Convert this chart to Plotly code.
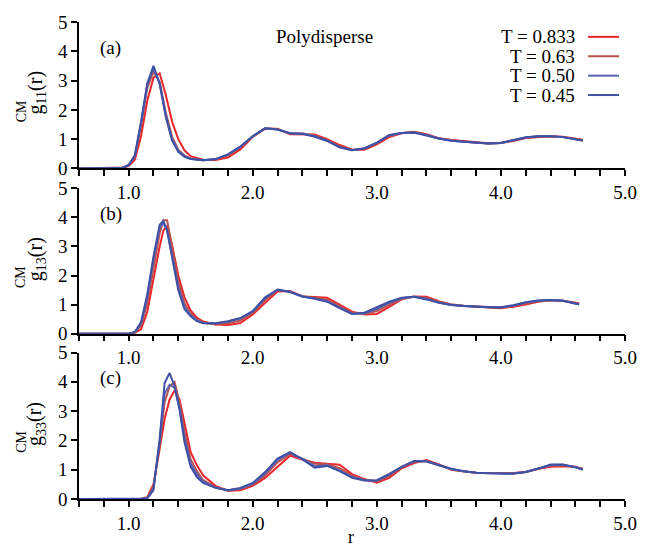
""" Pair correlation g_CM(r) for the polydisperse system, three panels. """

import plotly.graph_objects as go

FONT = "Liberation Serif"

TEMPS = ["T = 0.833", "T = 0.63", "T = 0.50", "T = 0.45"]
COLORS = ["#e8262b", "#b9524f", "#5a63b2", "#3e51a4"]

# panel (a): g_11
R_A = [0.6, 0.9, 0.95, 1.0, 1.05, 1.1, 1.15, 1.2, 1.25, 1.3, 1.35, 1.4, 1.45, 1.5,
       1.6, 1.7, 1.8, 1.9, 2.0, 2.1, 2.2, 2.3, 2.4, 2.5, 2.6, 2.7, 2.8, 2.9, 3.0,
       3.1, 3.2, 3.3, 3.4, 3.5, 3.6, 3.7, 3.8, 3.9, 4.0, 4.1, 4.2, 4.3, 4.4, 4.5,
       4.6, 4.66]
G11_0833 = [0, 0.01, 0.03, 0.08, 0.3, 1.1, 2.3, 3.1, 3.25, 2.5, 1.6, 1.0, 0.62, 0.42,
            0.3, 0.29, 0.37, 0.65, 1.08, 1.36, 1.36, 1.17, 1.17, 1.16, 1.0, 0.8, 0.65,
            0.64, 0.82, 1.07, 1.2, 1.25, 1.17, 1.03, 0.97, 0.94, 0.89, 0.86, 0.87,
            0.94, 1.04, 1.07, 1.1, 1.08, 1.02, 0.98]
G11_063 = [0, 0, 0.02, 0.1, 0.4, 1.45, 2.75, 3.3, 2.95, 1.9, 1.08, 0.64, 0.44, 0.34,
           0.28, 0.31, 0.44, 0.72, 1.1, 1.37, 1.34, 1.19, 1.19, 1.12, 0.97, 0.75, 0.63,
           0.67, 0.86, 1.12, 1.21, 1.24, 1.15, 1.02, 0.96, 0.92, 0.88, 0.85, 0.87,
           0.95, 1.05, 1.09, 1.1, 1.07, 1.01, 0.96]
G11_050 = [0, 0, 0.02, 0.11, 0.43, 1.55, 2.85, 3.4, 2.9, 1.8, 1.0, 0.6, 0.42, 0.33,
           0.28, 0.32, 0.47, 0.74, 1.1, 1.37, 1.33, 1.2, 1.19, 1.1, 0.95, 0.73, 0.62,
           0.68, 0.87, 1.13, 1.21, 1.23, 1.14, 1.02, 0.95, 0.91, 0.87, 0.85, 0.87,
           0.96, 1.06, 1.1, 1.1, 1.07, 1.0, 0.95]
G11_045 = [0, 0, 0.02, 0.12, 0.45, 1.6, 2.9, 3.5, 2.9, 1.75, 0.96, 0.57, 0.4, 0.32,
           0.28, 0.32, 0.48, 0.75, 1.1, 1.37, 1.33, 1.2, 1.18, 1.08, 0.94, 0.72, 0.62,
           0.69, 0.88, 1.14, 1.21, 1.23, 1.13, 1.02, 0.95, 0.91, 0.87, 0.85, 0.87,
           0.97, 1.07, 1.1, 1.1, 1.07, 1.0, 0.95]

# panel (b): g_13
R_B = [0.6, 0.95, 1.0, 1.05, 1.1, 1.15, 1.2, 1.25, 1.28, 1.31, 1.35, 1.4, 1.45, 1.5,
       1.55, 1.6, 1.7, 1.8, 1.9, 2.0, 2.1, 2.2, 2.3, 2.4, 2.5, 2.6, 2.7, 2.8, 2.9,
       3.0, 3.1, 3.2, 3.3, 3.4, 3.5, 3.6, 3.7, 3.8, 3.9, 4.0, 4.1, 4.2, 4.3, 4.4,
       4.5, 4.63]
G13_0833 = [0, 0, 0.01, 0.03, 0.15, 0.75, 1.9, 3.0, 3.55, 3.7, 3.05, 2.0, 1.25, 0.8,
            0.55, 0.42, 0.32, 0.3, 0.37, 0.66, 1.06, 1.45, 1.47, 1.28, 1.26, 1.24, 1.0,
            0.76, 0.66, 0.68, 0.92, 1.18, 1.28, 1.27, 1.12, 1.0, 0.95, 0.94, 0.9, 0.88,
            0.93, 1.0, 1.1, 1.15, 1.13, 1.05]
G13_063 = [0, 0, 0, 0.04, 0.28, 1.05, 2.3, 3.45, 3.9, 3.9, 3.0, 1.8, 1.05, 0.7, 0.5,
           0.38, 0.33, 0.36, 0.45, 0.72, 1.15, 1.5, 1.45, 1.29, 1.24, 1.17, 0.95, 0.72,
           0.68, 0.78, 1.0, 1.2, 1.27, 1.23, 1.1, 1.01, 0.96, 0.93, 0.9, 0.89, 0.96,
           1.05, 1.12, 1.16, 1.13, 1.03]
G13_050 = [0, 0, 0, 0.05, 0.35, 1.25, 2.55, 3.65, 3.8, 3.55, 2.7, 1.6, 0.92, 0.63,
           0.46, 0.37, 0.35, 0.41, 0.52, 0.76, 1.22, 1.51, 1.44, 1.28, 1.21, 1.12, 0.9,
           0.69, 0.7, 0.85, 1.06, 1.22, 1.27, 1.2, 1.07, 0.99, 0.95, 0.93, 0.91, 0.9,
           0.97, 1.07, 1.13, 1.16, 1.13, 1.01]
G13_045 = [0, 0, 0, 0.06, 0.4, 1.35, 2.65, 3.75, 3.88, 3.55, 2.6, 1.5, 0.85, 0.6,
           0.43, 0.36, 0.36, 0.43, 0.54, 0.78, 1.25, 1.52, 1.43, 1.28, 1.2, 1.1, 0.88,
           0.68, 0.72, 0.9, 1.1, 1.24, 1.27, 1.18, 1.06, 0.99, 0.95, 0.93, 0.91, 0.91,
           0.98, 1.08, 1.14, 1.16, 1.13, 1.0]

# panel (c): g_33
R_C = [0.6, 1.1, 1.15, 1.2, 1.25, 1.29, 1.33, 1.37, 1.41, 1.45, 1.5, 1.55, 1.6, 1.7,
       1.8, 1.9, 2.0, 2.1, 2.2, 2.3, 2.4, 2.5, 2.6, 2.7, 2.8, 2.9, 3.0, 3.1, 3.2,
       3.3, 3.4, 3.5, 3.6, 3.7, 3.8, 3.9, 4.0, 4.1, 4.2, 4.3, 4.4, 4.5, 4.6, 4.66]
G33_0833 = [0, 0.01, 0.06, 0.5, 1.71, 2.73, 3.4, 3.7, 3.4, 2.61, 1.6, 1.15, 0.81,
            0.45, 0.28, 0.3, 0.45, 0.72, 1.1, 1.48, 1.35, 1.24, 1.2, 1.17, 0.85, 0.68,
            0.56, 0.72, 1.05, 1.23, 1.33, 1.18, 1.0, 0.94, 0.9, 0.89, 0.89, 0.89, 0.92,
            1.03, 1.1, 1.12, 1.1, 1.03]
G33_063 = [0, 0, 0.04, 0.4, 1.85, 3.3, 3.85, 4.0, 3.3, 2.3, 1.35, 0.95, 0.65, 0.4,
           0.29, 0.33, 0.5, 0.8, 1.25, 1.55, 1.38, 1.2, 1.18, 1.05, 0.8, 0.66, 0.6,
           0.78, 1.08, 1.27, 1.3, 1.17, 1.01, 0.94, 0.9, 0.89, 0.88, 0.88, 0.92, 1.03,
           1.14, 1.15, 1.09, 1.02]
G33_050 = [0, 0, 0.03, 0.35, 1.95, 3.6, 3.9, 3.8, 3.1, 2.1, 1.2, 0.85, 0.6, 0.39,
           0.3, 0.36, 0.52, 0.87, 1.33, 1.58, 1.37, 1.12, 1.15, 0.98, 0.75, 0.64, 0.62,
           0.83, 1.1, 1.29, 1.29, 1.16, 1.02, 0.95, 0.9, 0.88, 0.87, 0.87, 0.92, 1.03,
           1.16, 1.17, 1.09, 1.01]
G33_045 = [0, 0, 0.02, 0.3, 2.05, 3.96, 4.3, 3.85, 3.06, 1.94, 1.1, 0.75, 0.55, 0.38,
           0.3, 0.38, 0.55, 0.92, 1.38, 1.6, 1.35, 1.07, 1.13, 0.95, 0.72, 0.63, 0.64,
           0.86, 1.1, 1.3, 1.28, 1.15, 1.03, 0.95, 0.9, 0.88, 0.86, 0.86, 0.92, 1.03,
           1.18, 1.18, 1.08, 1.0]

X_LABEL_TICKS = [1.0, 2.0, 3.0, 4.0, 5.0]
Y_TICKS = [0, 1, 2, 3, 4, 5]

PANELS = [
    ("(a)", "11", R_A, [G11_0833, G11_063, G11_050, G11_045]),
    ("(b)", "13", R_B, [G13_0833, G13_063, G13_050, G13_045]),
    ("(c)", "33", R_C, [G33_0833, G33_063, G33_050, G33_045]),
]

W, H = 649, 547
L, R, T, B = 79, 22, 17, 48
PH = H - T - B
PW = W - L - R
# panel tops/bottoms in pixels from the top of the page
PANEL_PX = [(17, 165), (185, 332), (351, 499)]


def py2paper(py):
    return (H - B - py) / PH


def px2paper(px):
    return (px - L) / PW


fig = go.Figure()
annotations = []
shapes = []
tick_font = dict(family=FONT, size=19, color="black")

for i, (tag, sub, r, series) in enumerate(PANELS):
    n = i + 1
    xa = "x" if n == 1 else f"x{n}"
    ya = "y" if n == 1 else f"y{n}"
    for name, color, g in zip(TEMPS, COLORS, series):
        fig.add_trace(go.Scatter(x=r, y=g, mode="lines", name=name, xaxis=xa, yaxis=ya,
                                 line=dict(color=color, width=2), showlegend=False))
    top, bot = PANEL_PX[i]
    axis_common = dict(showline=True, linecolor="black", linewidth=1.5, ticks="outside",
                       ticklen=6, tickwidth=1.5, tickcolor="black", showgrid=False,
                       zeroline=False, tickfont=tick_font)
    fig.layout[f"xaxis{'' if n == 1 else n}"] = dict(
        axis_common, range=[0.6, 5.0], tickmode="array", tickvals=X_LABEL_TICKS,
        tickformat=".1f", anchor=ya, domain=[0, 1],
        minor=dict(ticks="outside", ticklen=6, tickwidth=1.5, tickcolor="black",
                   tickmode="linear", tick0=0.6, dtick=0.2, showgrid=False))
    fig.layout[f"yaxis{'' if n == 1 else n}"] = dict(
        axis_common, range=[0, 5], tickmode="array", tickvals=Y_TICKS,
        anchor=xa, domain=[py2paper(bot), py2paper(top)])
    mid = (top + bot) / 2
    annotations.append(dict(text=f"g<sub>{sub}</sub>(r)", xref="paper", yref="paper",
                             x=px2paper(36), y=py2paper(mid - 2), textangle=-90,
                             showarrow=False, xanchor="center", yanchor="middle",
                             font=dict(family=FONT, size=20, color="black")))
    annotations.append(dict(text="CM", xref="paper", yref="paper",
                             x=px2paper(21), y=py2paper(mid + 16), textangle=-90,
                             showarrow=False, xanchor="center", yanchor="middle",
                             font=dict(family=FONT, size=14, color="black")))
    annotations.append(dict(text=tag, xref="paper", yref="paper",
                             x=px2paper(111), y=py2paper(top + 26), showarrow=False,
                             xanchor="center", yanchor="middle",
                             font=dict(family=FONT, size=19, color="black")))

annotations.append(dict(text="Polydisperse", xref="paper", yref="paper",
                        x=px2paper(325), y=py2paper(32), showarrow=False,
                        xanchor="center", yanchor="middle",
                        font=dict(family=FONT, size=19, color="black")))
annotations.append(dict(text="r", xref="paper", yref="paper",
                        x=px2paper(352), y=py2paper(537), showarrow=False,
                        xanchor="center", yanchor="middle",
                        font=dict(family=FONT, size=18, color="black")))

# legend drawn as text on the left, line sample on the right
for k, (name, color) in enumerate(zip(TEMPS, COLORS)):
    yy = 32 + k * 19.6
    annotations.append(dict(text=name, xref="paper", yref="paper", x=px2paper(579),
                            y=py2paper(yy), showarrow=False, xanchor="right",
                            yanchor="middle",
                            font=dict(family=FONT, size=19, color="black")))
    shapes.append(dict(type="line", xref="paper", yref="paper", x0=px2paper(590),
                       x1=px2paper(621), y0=py2paper(yy), y1=py2paper(yy),
                       line=dict(color=color, width=2)))

fig.update_layout(width=W, height=H, margin=dict(l=L, r=R, t=T, b=B),
                  plot_bgcolor="white", paper_bgcolor="white",
                  annotations=annotations, shapes=shapes,
                  font=dict(family=FONT, color="black"))

fig.write_html("out.html", config={"displayModeBar": False},
               post_script="document.body.style.margin='0';")
